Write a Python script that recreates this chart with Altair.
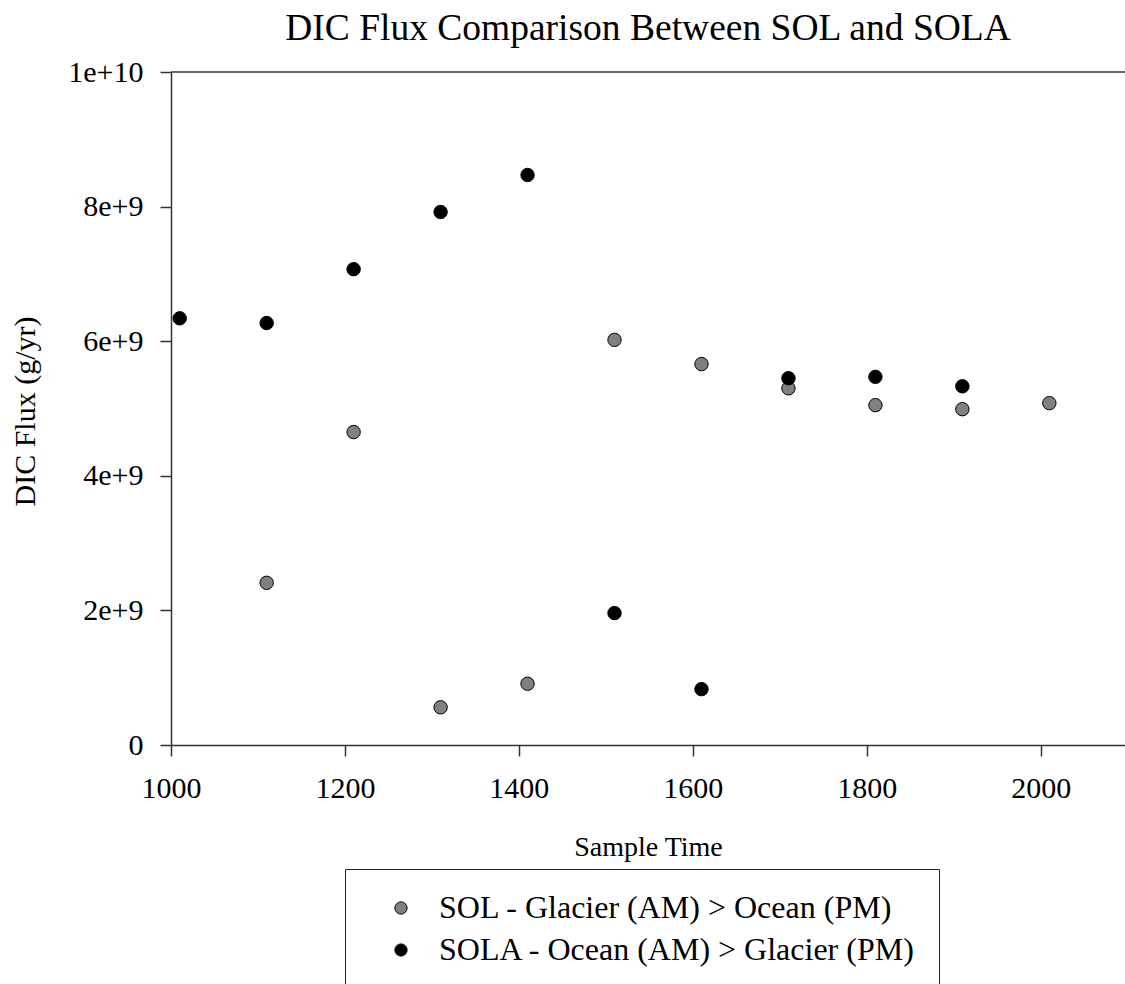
import altair as alt
import pandas as pd

sol_times = [1110, 1210, 1310, 1410, 1510, 1610, 1710, 1810, 1910, 2010]
sol_flux = [2.41e9, 4.65e9, 0.56e9, 0.91e9, 6.02e9, 5.66e9, 5.30e9, 5.05e9, 4.99e9, 5.08e9]
sola_times = [1010, 1110, 1210, 1310, 1410, 1510, 1610, 1710, 1810, 1910]
sola_flux = [6.34e9, 6.27e9, 7.07e9, 7.92e9, 8.47e9, 1.96e9, 0.83e9, 5.45e9, 5.47e9, 5.33e9]
series_names = ["SOL - Glacier (AM) > Ocean (PM)", "SOLA - Ocean (AM) > Glacier (PM)"]
series_colors = ["#808080", "#000000"]
x_ticks = [1000, 1200, 1400, 1600, 1800, 2000]
y_ticks = [0, 2e9, 4e9, 6e9, 8e9, 1e10]

rows = []
i = 0
for t, v in zip(sol_times, sol_flux):
    rows.append({"time": t, "flux": v, "series": series_names[0], "idx": i}); i += 1
for t, v in zip(sola_times, sola_flux):
    rows.append({"time": t, "flux": v, "series": series_names[1], "idx": i}); i += 1
df = pd.DataFrame(rows)

FONT = "Liberation Serif"

points = alt.Chart(df).mark_point(
    filled=True, size=180, stroke="#000000", strokeWidth=1, opacity=1
).encode(
    x=alt.X("time:Q", title="Sample Time",
            scale=alt.Scale(domain=[1000, 2097], nice=False, zero=False),
            axis=alt.Axis(values=x_ticks, format="d", labelPadding=17, titlePadding=30,
                          labelFlush=False)),
    y=alt.Y("flux:Q", title="DIC Flux (g/yr)",
            scale=alt.Scale(domain=[0, 1e10], nice=False),
            axis=alt.Axis(values=y_ticks, labelPadding=17, labelFlush=False,
                          labelExpr="datum.value == 0 ? '0' : format(datum.value, '.0e')",
                          titleX=-146, titleY=339, titleAlign="center",
                          titleBaseline="middle", titleFontSize=30)),
    color=alt.Color("series:N", scale=alt.Scale(domain=series_names, range=series_colors),
                    legend=alt.Legend(title=None, orient="none", legendX=174, legendY=797,
                                      direction="vertical", strokeColor="#222222",
                                      fillColor="white", padding=23, symbolOffset=17,
                                      labelOffset=22, labelFontSize=32, labelFont=FONT,
                                      labelColor="black", symbolSize=150, rowPadding=10,
                                      labelLimit=1000,
                                      symbolStrokeColor="#000000", symbolStrokeWidth=1)),
    order=alt.Order("idx:Q"),
)

top_rule = alt.Chart(pd.DataFrame({"y": [1e10]})).mark_rule(
    color="#333333", strokeWidth=1.5
).encode(y="y:Q")

chart = alt.layer(points, top_rule).properties(
    width=954, height=673,
    background="white",
    title=alt.TitleParams("DIC Flux Comparison Between SOL and SOLA", font=FONT,
                          fontSize=37.5, fontWeight="normal", color="black",
                          anchor="middle", offset=10),
    autosize=alt.AutoSizeParams(type="none"),
    padding={"left": 171, "top": 72, "right": 0, "bottom": 239},
).configure_view(stroke=None).configure_axis(
    grid=False, domainColor="#333333", domainWidth=1.5, tickColor="#333333",
    tickWidth=1.5, tickSize=11, labelFont=FONT, labelFontSize=30, labelColor="black",
    titleFont=FONT, titleFontSize=28, titleFontWeight="normal", titleColor="black",
)

chart.save("out.html", embed_options={"renderer": "svg", "actions": False})
